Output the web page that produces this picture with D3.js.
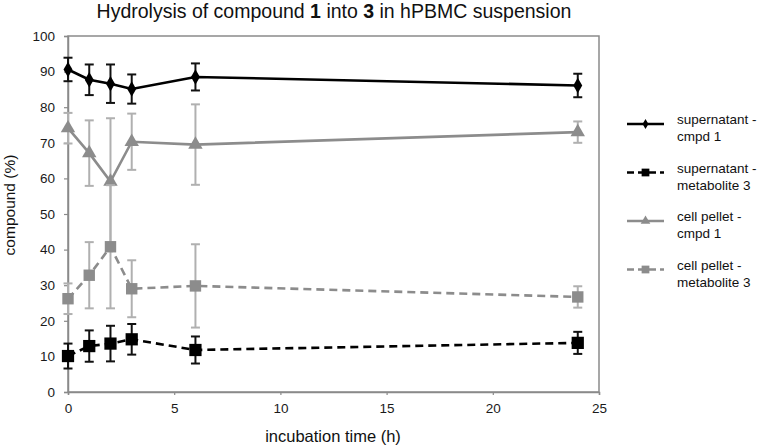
<!DOCTYPE html>
<html>
<head>
<meta charset="utf-8">
<script src="https://cdn.jsdelivr.net/npm/d3@7"></script>
<style>
body { margin: 0; background: #fff; }
text { font-family: "Liberation Sans", Arial, sans-serif; }
</style>
</head>
<body>
<div class="chart"></div>
<script>
var width = 764;
var height = 447;

// data
var times = [0, 1, 2, 3, 6, 24];
var sup_cmpd1 = [90.6, 87.7, 86.6, 85.1, 88.5, 86.1];
var sup_cmpd1_err = [3.3, 4.3, 5.4, 4.1, 3.8, 3.3];
var sup_met3 = [10.1, 12.9, 13.6, 14.8, 11.8, 13.8];
var sup_met3_err = [3.5, 4.4, 5.0, 4.3, 3.8, 3.1];
var pel_cmpd1 = [74.1, 67.1, 59.1, 70.3, 69.5, 73.0];
var pel_cmpd1_err = [4.3, 9.2, 17.8, 7.9, 11.3, 3.0];
var pel_met3 = [26.2, 32.8, 40.8, 29.0, 29.8, 26.7];
var pel_met3_err = [4.3, 9.3, 17.3, 8.0, 11.7, 3.0];
var x_ticks = [0, 5, 10, 15, 20, 25];
var y_ticks = [0, 10, 20, 30, 40, 50, 60, 70, 80, 90, 100];

var margin = { top: 36, left: 68, right: 165, bottom: 55 };

var series = [
    { name: ["supernatant -", "cmpd 1"], values: sup_cmpd1, err: sup_cmpd1_err,
      color: "#000", err_color: "#111", dash: null, symbol: d3.symbolDiamond, size: 70, legend_size: 30 },
    { name: ["supernatant -", "metabolite 3"], values: sup_met3, err: sup_met3_err,
      color: "#000", err_color: "#111", dash: "8,5", symbol: d3.symbolSquare, size: 150, legend_size: 60 },
    { name: ["cell pellet -", "cmpd 1"], values: pel_cmpd1, err: pel_cmpd1_err,
      color: "#8c8c8c", err_color: "#b0b0b0", dash: null, symbol: d3.symbolTriangle, size: 90, legend_size: 40 },
    { name: ["cell pellet -", "metabolite 3"], values: pel_met3, err: pel_met3_err,
      color: "#8c8c8c", err_color: "#b0b0b0", dash: "8,5", symbol: d3.symbolSquare, size: 130, legend_size: 60 }
];

var svg = d3.select(".chart").append("svg")
    .attr("width", width)
    .attr("height", height);

var x = d3.scaleLinear()
    .domain([0, 25])
    .range([margin.left, width - margin.right]);

var y = d3.scaleLinear()
    .domain([0, 100])
    .range([height - margin.bottom, margin.top]);

// frame
svg.append("rect")
    .attr("x", x(0))
    .attr("y", y(100))
    .attr("width", x(25) - x(0))
    .attr("height", y(0) - y(100))
    .attr("fill", "none")
    .attr("stroke", "#8a8a8a")
    .attr("stroke-width", 1.5);

// axes
var x_axis = svg.append("g")
    .attr("transform", "translate(0," + y(0) + ")")
    .call(d3.axisBottom(x).tickValues(x_ticks).tickSize(3).tickPadding(8));

var y_axis = svg.append("g")
    .attr("transform", "translate(" + x(0) + ",0)")
    .call(d3.axisLeft(y).tickValues(y_ticks).tickSize(4).tickPadding(9));

[x_axis, y_axis].forEach(function(a){
    a.select(".domain").attr("stroke", "#8a8a8a").attr("stroke-width", 1.5);
    a.selectAll(".tick line").attr("stroke", "#8a8a8a").attr("stroke-width", 1.2);
    a.selectAll(".tick text")
        .attr("font-size", "13.5px")
        .attr("fill", "#1a1a1a")
        .style("font-family", "'Liberation Sans', Arial, sans-serif");
});

// title
var title = svg.append("text")
    .attr("x", 334)
    .attr("y", 18)
    .attr("text-anchor", "middle")
    .attr("font-size", "19.5px")
    .attr("fill", "#111");
title.append("tspan").text("Hydrolysis of compound ");
title.append("tspan").attr("font-weight", "bold").text("1");
title.append("tspan").text(" into ");
title.append("tspan").attr("font-weight", "bold").text("3");
title.append("tspan").text(" in hPBMC suspension");

// axis titles
svg.append("text")
    .attr("x", 333)
    .attr("y", 442)
    .attr("text-anchor", "middle")
    .attr("font-size", "16.5px")
    .attr("fill", "#111")
    .text("incubation time (h)");

svg.append("text")
    .attr("transform", "translate(15," + 205 + ") rotate(-90)")
    .attr("text-anchor", "middle")
    .attr("font-size", "15.5px")
    .attr("fill", "#111")
    .text("compound (%)");

// series (drawn grey first, black on top)
var draw_order = [2, 3, 0, 1];
var line = d3.line()
    .x(function(d){ return x(d.t); })
    .y(function(d){ return y(d.v); });

draw_order.forEach(function(i){
    var s = series[i];
    var pts = times.map(function(t, k){ return { t: t, v: s.values[k], e: s.err[k] }; });
    var g = svg.append("g");

    var bars = g.selectAll("g.err").data(pts).enter().append("g").attr("class", "err");
    bars.append("line")
        .attr("x1", function(d){ return x(d.t); })
        .attr("x2", function(d){ return x(d.t); })
        .attr("y1", function(d){ return y(d.v - d.e); })
        .attr("y2", function(d){ return y(d.v + d.e); });
    bars.append("line")
        .attr("x1", function(d){ return x(d.t) - 4.5; })
        .attr("x2", function(d){ return x(d.t) + 4.5; })
        .attr("y1", function(d){ return y(d.v - d.e); })
        .attr("y2", function(d){ return y(d.v - d.e); });
    bars.append("line")
        .attr("x1", function(d){ return x(d.t) - 4.5; })
        .attr("x2", function(d){ return x(d.t) + 4.5; })
        .attr("y1", function(d){ return y(d.v + d.e); })
        .attr("y2", function(d){ return y(d.v + d.e); });
    bars.selectAll("line")
        .attr("stroke", s.err_color)
        .attr("stroke-width", 2);

    g.append("path")
        .datum(pts)
        .attr("d", line)
        .attr("fill", "none")
        .attr("stroke", s.color)
        .attr("stroke-width", 2.6)
        .attr("stroke-dasharray", s.dash);

    g.selectAll("path.mark").data(pts).enter().append("path")
        .attr("class", "mark")
        .attr("d", d3.symbol().type(s.symbol).size(s.size))
        .attr("transform", function(d){ return "translate(" + x(d.t) + "," + y(d.v) + ")"; })
        .attr("fill", s.color);
});

// legend
var legend = svg.append("g").attr("transform", "translate(627,124)");
var entries = legend.selectAll("g").data(series).enter().append("g")
    .attr("transform", function(d, i){ return "translate(0," + (i * 48.5) + ")"; });

entries.append("line")
    .attr("x1", 0).attr("x2", 37)
    .attr("y1", 0).attr("y2", 0)
    .attr("stroke", function(d){ return d.color; })
    .attr("stroke-width", 2.6)
    .attr("stroke-dasharray", function(d){ return d.dash ? "7,4" : null; });

entries.append("path")
    .attr("d", function(d){ return d3.symbol().type(d.symbol).size(d.legend_size)(); })
    .attr("transform", "translate(18.5,0)")
    .attr("fill", function(d){ return d.color; });

entries.append("text")
    .attr("x", 50)
    .attr("y", 0)
    .attr("font-size", "13.5px")
    .attr("fill", "#111")
    .selectAll("tspan").data(function(d){ return d.name; }).enter().append("tspan")
    .attr("x", 50)
    .attr("y", function(d, i){ return i === 0 ? 0 : 17; })
    .text(function(d){ return d; });
</script>
</body>
</html>
